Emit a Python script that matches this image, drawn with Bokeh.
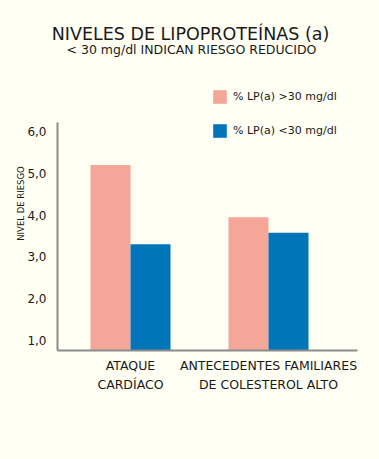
from bokeh.plotting import figure
from bokeh.models import (ColumnDataSource, FixedTicker, Range1d, Label, Legend, LegendItem)
from bokeh.transform import dodge
from bokeh.embed import file_html
from bokeh.resources import INLINE
import math

categories = ["ATAQUE\nCARDÍACO", "ANTECEDENTES FAMILIARES\nDE COLESTEROL ALTO"]
cat_pos = [1, 2]
high_lpa = [5.2, 3.95]
low_lpa = [3.3, 3.58]
series_names = ["% LP(a) >30 mg/dl", "% LP(a) <30 mg/dl"]
y_ticks = [1, 2, 3, 4, 5, 6]
y_tick_labels = ["1,0", "2,0", "3,0", "4,0", "5,0", "6,0"]

BG = "#fffff3"
PINK = "#f4a699"
BLUE = "#0076b9"
AXIS = "#8c8c8c"
TXT = "#1a1a1a"
FONT = "DejaVu Sans"

W, H = 379, 459
XPU, YPU = 138.0, 41.8
X0_PX, X0 = 57.0, 0.471     # y-axis line position
Y0_PX, Y0 = 350.0, 0.761    # x-axis line position
X_END = X0 + 300.0 / XPU
Y_END = Y0 + 228.0 / YPU


def X(px):
    return X0 + (px - X0_PX) / XPU


def Y(py):
    return Y0 + (Y0_PX - py) / YPU


src = ColumnDataSource(dict(x=cat_pos, high=high_lpa, low=low_lpa))

p = figure(width=W, height=H, output_backend="svg", toolbar_location=None,
           x_range=Range1d(X(0), X(W)), y_range=Range1d(Y(H), Y(0)),
           min_border=0)
p.background_fill_color = BG
p.border_fill_color = BG
p.outline_line_color = None
p.grid.visible = False

bw = 40.0 / XPU
r1 = p.vbar(x=dodge("x", -bw / 2, range=p.x_range), top="high", bottom=Y0, width=bw,
            source=src, fill_color=PINK, line_color=None)
r2 = p.vbar(x=dodge("x", bw / 2, range=p.x_range), top="low", bottom=Y0, width=bw,
            source=src, fill_color=BLUE, line_color=None)

for ax in (p.xaxis[0], p.yaxis[0]):
    ax.axis_line_color = AXIS
    ax.axis_line_width = 2
    ax.major_tick_line_color = None
    ax.minor_tick_line_color = None
    ax.major_label_text_font = FONT
    ax.major_label_text_color = TXT

p.yaxis.fixed_location = X0
p.yaxis.bounds = (Y0, Y_END)
p.yaxis.ticker = FixedTicker(ticks=y_ticks)
p.yaxis.major_label_overrides = {t: l for t, l in zip(y_ticks, y_tick_labels)}
p.yaxis.major_label_standoff = 5
p.yaxis.major_label_text_font_size = "12px"

p.xaxis.fixed_location = Y0
p.xaxis.bounds = (X0, X_END)
p.xaxis.ticker = FixedTicker(ticks=cat_pos)
p.xaxis.major_label_overrides = {t: l for t, l in zip(cat_pos, categories)}
p.xaxis.major_label_standoff = 1
p.xaxis.major_label_text_font_size = "12.5px"
p.xaxis.major_label_text_line_height = 1.3

legend = Legend(items=[LegendItem(label=series_names[0], renderers=[r1]),
                       LegendItem(label=series_names[1], renderers=[r2])],
                location=(211, H - 139), padding=0, margin=0, spacing=17,
                glyph_width=17, glyph_height=17, label_height=17, label_standoff=5,
                label_text_font=FONT, label_text_font_size="11px", label_text_color=TXT,
                background_fill_alpha=0, border_line_color=None)
p.add_layout(legend)

p.add_layout(Label(x=X(190), y=Y(33), text="NIVELES DE LIPOPROTEÍNAS (a)",
                   text_align="center", text_baseline="alphabetic", text_font=FONT,
                   text_font_size="17.5px", text_color=TXT))
p.add_layout(Label(x=X(191), y=Y(49), text="< 30 mg/dl INDICAN RIESGO REDUCIDO",
                   text_align="center", text_baseline="alphabetic", text_font=FONT,
                   text_font_size="12.5px", text_color=TXT))
p.add_layout(Label(x=X(20), y=Y(203), angle=math.pi / 2, text="NIVEL DE RIESGO",
                   text_align="center", text_baseline="middle", text_font=FONT,
                   text_font_size="8.5px", text_color=TXT))

html = file_html(p, INLINE)
html = html.replace("<body>", '<body style="background:%s">' % BG, 1)
open("out.html", "w").write(html)
